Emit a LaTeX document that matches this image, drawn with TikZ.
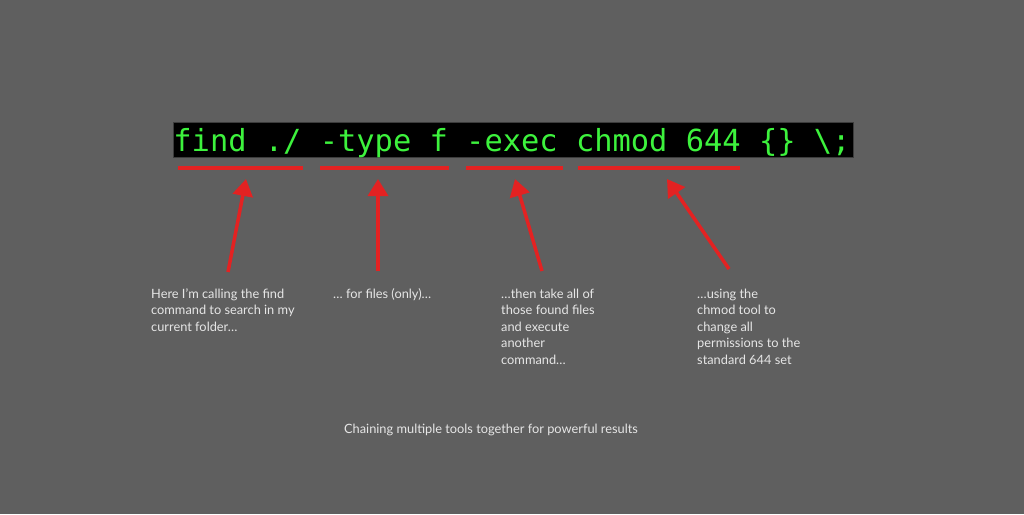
\documentclass[tikz,border=0pt]{standalone}
\usepackage{fontspec}
\setmainfont{Lato}
\newfontfamily\codefont{DejaVu Sans Mono}
\usetikzlibrary{arrows.meta}
\definecolor{bg}{HTML}{5F5F5F}
\definecolor{termgreen}{HTML}{3DF23D}
\definecolor{markred}{HTML}{E32222}
\definecolor{notegray}{HTML}{E6E6E6}
\definecolor{boxedge}{HTML}{3C3C3C}
\begin{document}
\begin{tikzpicture}[x=1pt,y=-1pt,
  underline/.style={draw=markred, line width=4pt},
  pointer/.style={draw=markred, line width=3.5pt, -{Triangle[width=20pt,length=17pt]}},
  note/.style={text=notegray, font=\fontsize{12.8}{16.5}\selectfont, align=left, anchor=north west, inner sep=0pt}]
\fill[bg] (0,0) rectangle (1024,514);
\useasboundingbox (0,0) rectangle (1024,514);
% terminal box
\node[fill=black, draw=boxedge, line width=1pt, minimum width=680pt, minimum height=35pt, anchor=north west, inner sep=0pt] (cmd) at (173,122) {};
\node[text=termgreen, font=\codefont\fontsize{30.4}{30.4}\selectfont, anchor=base, inner sep=0pt] (cmdtext) at (512,151) {find ./ -type f -exec chmod 644 \{\} \textbackslash;};
% underlines
\coordinate (u1a) at (178,168); \coordinate (u1b) at (303,168);
\coordinate (u2a) at (320,168); \coordinate (u2b) at (449,168);
\coordinate (u3a) at (466,168); \coordinate (u3b) at (563,168);
\coordinate (u4a) at (578,168); \coordinate (u4b) at (740,168);
\draw[underline] (u1a) -- (u1b);
\draw[underline] (u2a) -- (u2b);
\draw[underline] (u3a) -- (u3b);
\draw[underline] (u4a) -- (u4b);
% labels
\node[note] (l1) at (151,288.5) {Here I’m calling the find\\command to search in my\\current folder…};
\node[note] (l2) at (333,288.5) {… for files (only)…};
\node[note] (l3) at (501,288.5) {…then take all of\\those found files\\and execute\\another\\command…};
\node[note] (l4) at (697,288.5) {…using the\\chmod tool to\\change all\\permissions to the\\standard 644 set};
\node[text=notegray, font=\fontsize{12.8}{15}\selectfont, anchor=base, inner sep=0pt] (caption) at (491,433) {Chaining multiple tools together for powerful results};
% arrow ends
\coordinate (t1) at (228,272); \coordinate (h1) at (246,179);
\coordinate (t2) at (378,271); \coordinate (h2) at (378,179);
\coordinate (t3) at (542,271); \coordinate (h3) at (515,179);
\coordinate (t4) at (729,269); \coordinate (h4) at (667,179);
\draw[pointer] (t1) -- (h1);
\draw[pointer] (t2) -- (h2);
\draw[pointer] (t3) -- (h3);
\draw[pointer] (t4) -- (h4);
\end{tikzpicture}
\end{document}
